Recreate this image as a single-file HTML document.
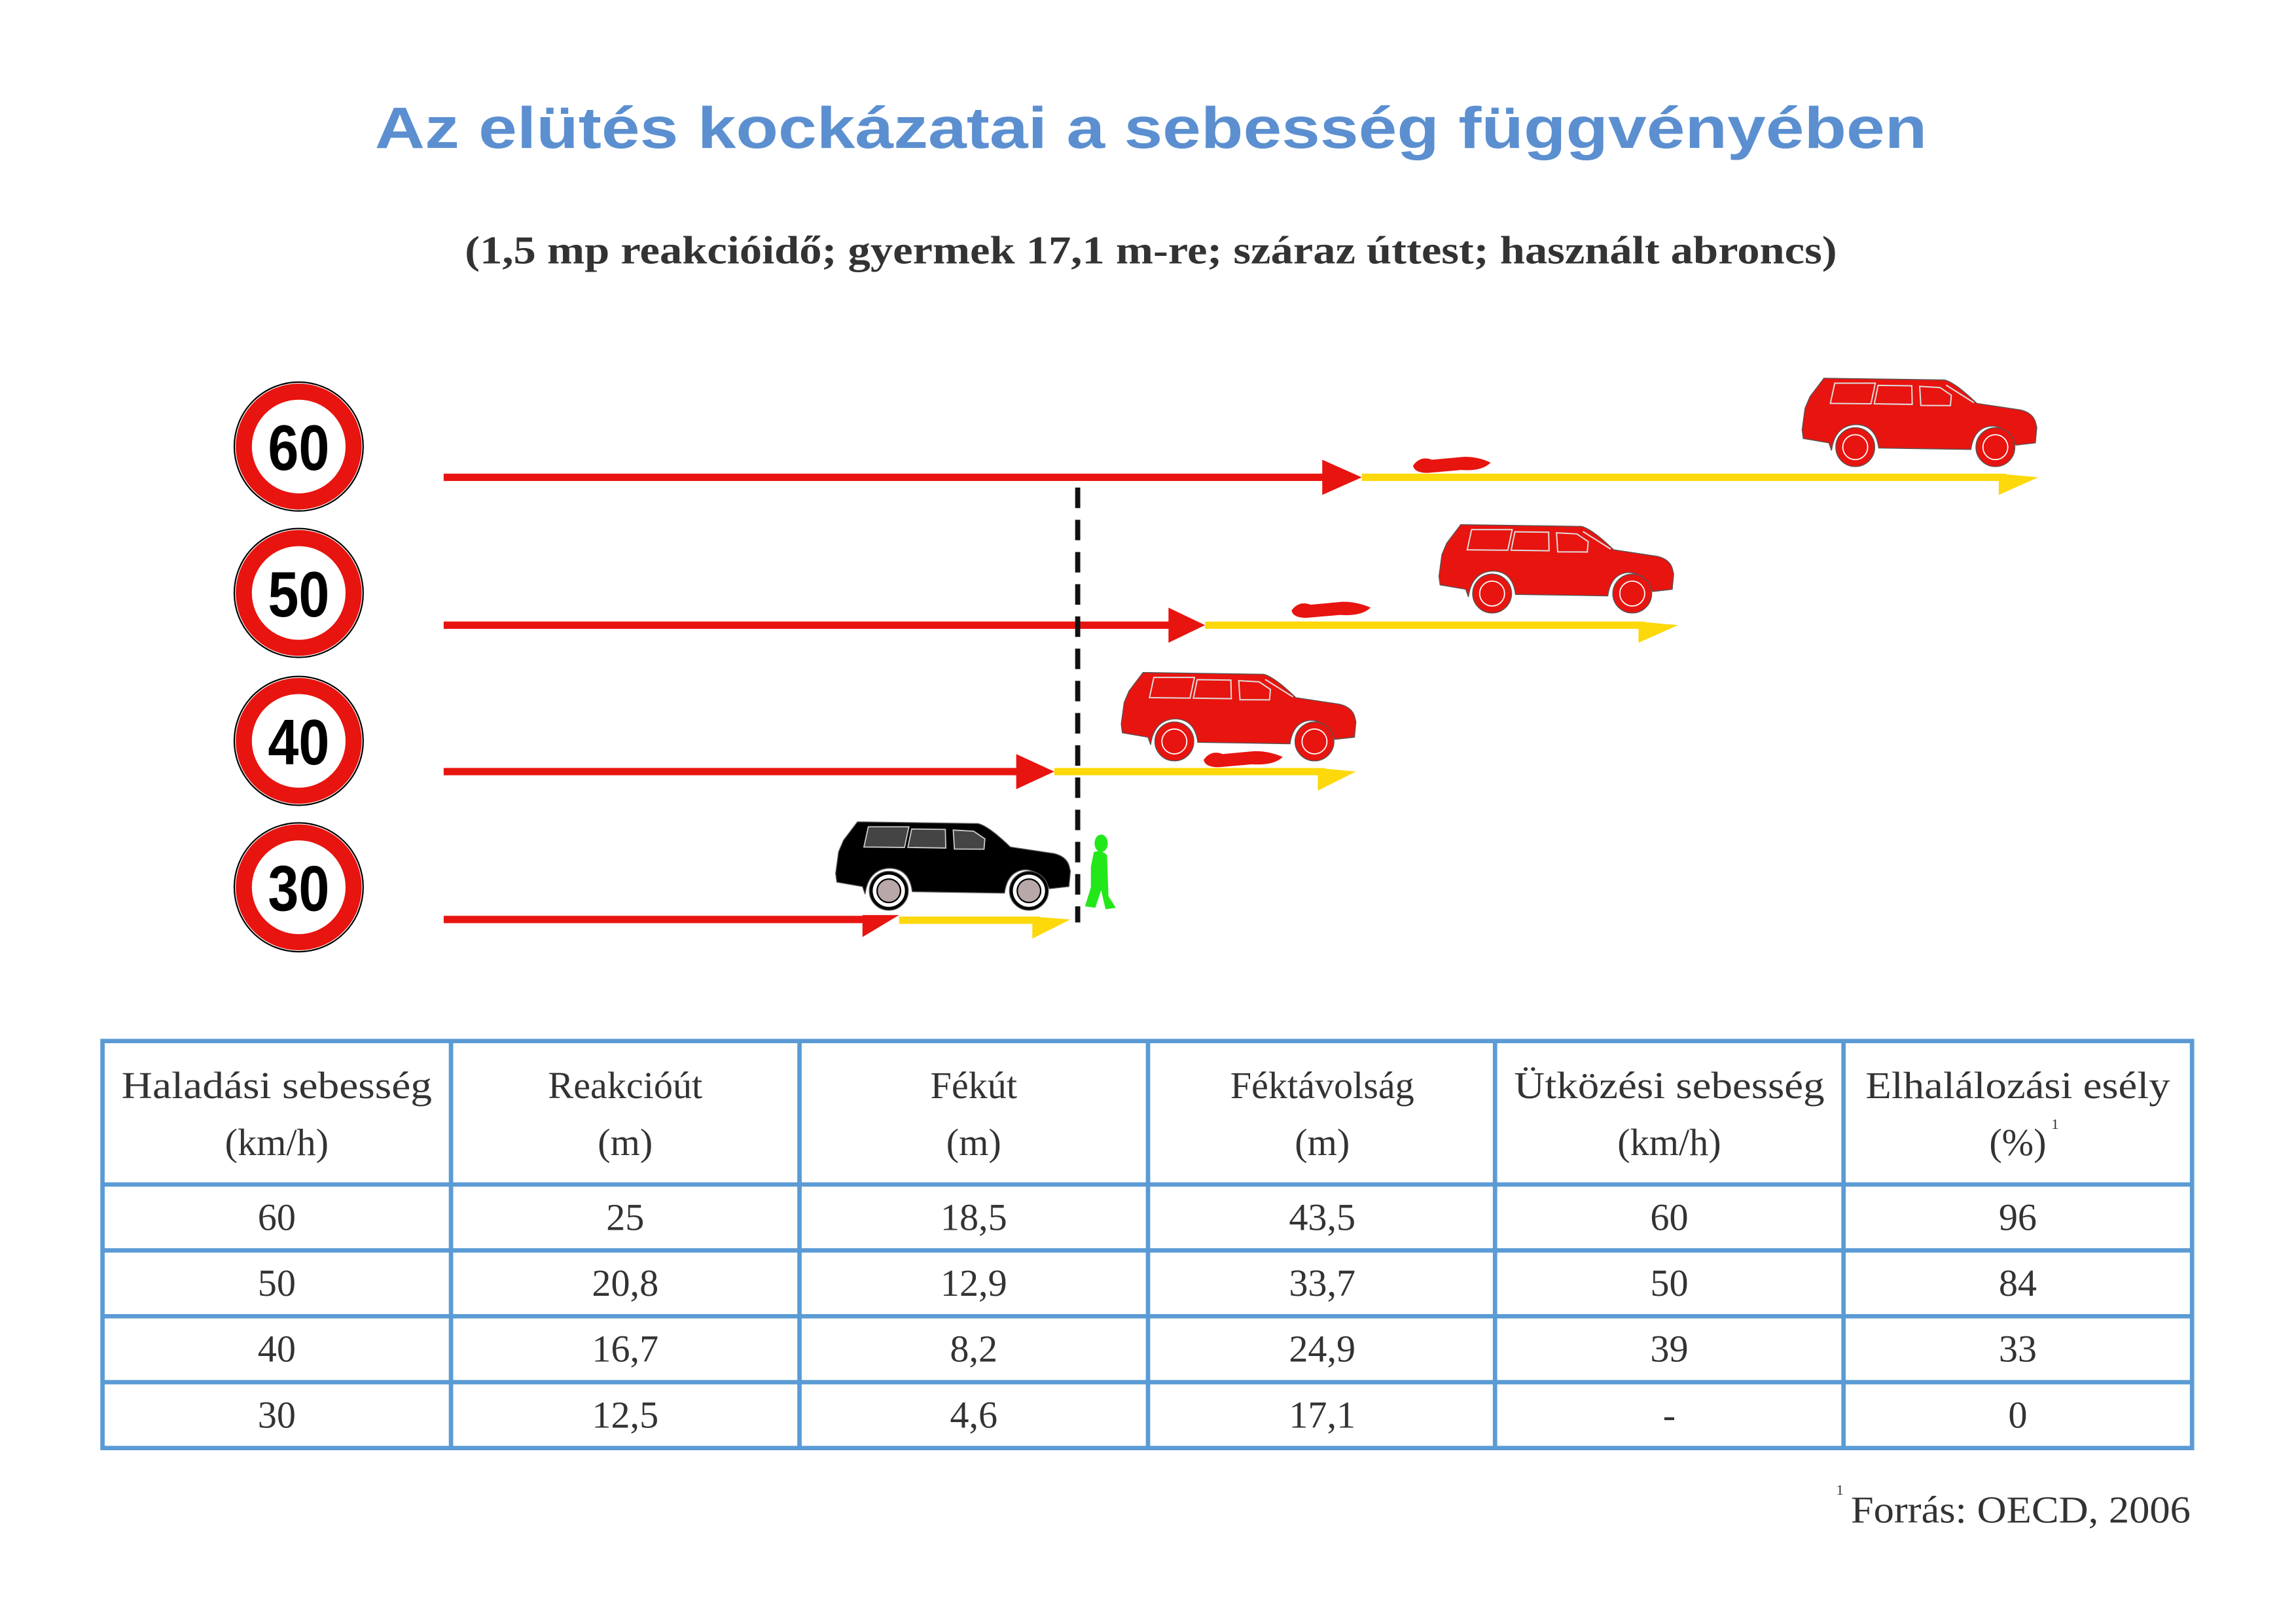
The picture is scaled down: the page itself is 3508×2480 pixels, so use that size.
<!DOCTYPE html>
<html><head><meta charset="utf-8"><style>html,body{margin:0;padding:0;background:#fff}svg{display:block}</style></head>
<body>
<svg xmlns="http://www.w3.org/2000/svg" width="3508" height="2480" viewBox="0 0 1568 1108.5" preserveAspectRatio="none">
<defs>
<g id="car">
<path d="M15.6,0.3 L97.8,1.5 Q105,3 120,17.5 L150,22 Q158,24 160,30 L161,34 L160,44.5 L146.7,46 Q140,33 130,33 Q118,34 116,49 L53,48 Q51,32 37,32 Q23,33 20.8,49.7 L19,44.5 L1.5,41.5 L0.7,35.6 L2.7,20.8 L6,13 Z" stroke="#555" stroke-width="0.6"/>
<circle cx="37" cy="47.4" r="13.3" stroke="#555" stroke-width="0.6"/>
<circle cx="132.7" cy="47.4" r="13.3" stroke="#555" stroke-width="0.6"/>
</g>
<g id="win" fill="none" stroke-width="0.9">
<path d="M23,3.7 L50.7,3.7 L47.7,17.8 L20,17.5 Z M52.6,5.2 L75.6,5.5 L75.9,18.2 L50,17.8 Z M81,5.9 L94.9,6.7 L102.6,11.9 L102,19 L81.8,18.9 Z M99,5 L118,17"/>
</g>
<g id="sign">
<circle r="44" fill="#fff" stroke="#000" stroke-width="1"/>
<circle r="37.5" fill="none" stroke="#e8140f" stroke-width="11"/>
</g>
</defs>

<text x="786" y="101" text-anchor="middle" font-family="Liberation Sans, sans-serif" font-weight="bold" font-size="40" fill="#5b8fd0" textLength="1060" lengthAdjust="spacingAndGlyphs">Az elütés kockázatai a sebesség függvényében</text>
<text x="786" y="180" text-anchor="middle" font-family="Liberation Serif, serif" font-weight="bold" font-size="27" fill="#333" textLength="937" lengthAdjust="spacingAndGlyphs">(1,5 mp reakcióidő; gyermek 17,1 m-re; száraz úttest; használt abroncs)</text>

<g font-family="Liberation Sans, sans-serif" font-weight="bold" font-size="44" text-anchor="middle" fill="#000">
<use href="#sign" x="204" y="305"/><text x="204" y="321" textLength="42" lengthAdjust="spacingAndGlyphs">60</text>
<use href="#sign" x="204" y="405"/><text x="204" y="421" textLength="42" lengthAdjust="spacingAndGlyphs">50</text>
<use href="#sign" x="204" y="506"/><text x="204" y="522" textLength="42" lengthAdjust="spacingAndGlyphs">40</text>
<use href="#sign" x="204" y="606"/><text x="204" y="622" textLength="42" lengthAdjust="spacingAndGlyphs">30</text>
</g>

<g fill="#e8140f">
<rect x="303" y="323.5" width="605" height="5"/><path d="M903,314 L930,326 L903,338 Z"/>
<rect x="303" y="424.5" width="500" height="5"/><path d="M798,415 L823,427 L798,439 Z"/>
<rect x="303" y="524.5" width="395" height="5"/><path d="M694,515 L720,527 L694,539 Z"/>
<rect x="303" y="625.5" width="290" height="5"/><path d="M589,625 L614,625 L589,640 Z"/>
</g>
<g fill="#fdd80a">
<rect x="930" y="323.5" width="440" height="5"/><path d="M1365,323.5 L1392,326 L1365,338 Z"/>
<rect x="823" y="424.5" width="300" height="5"/><path d="M1119,424.5 L1146,427 L1119,439 Z"/>
<rect x="720" y="524.5" width="185" height="5"/><path d="M900,524.5 L926,527 L900,540 Z"/>
<rect x="614" y="626" width="96" height="5"/><path d="M705,626 L731,628 L705,641 Z"/>
</g>
<line x1="736" y1="333" x2="736" y2="630" stroke="#111" stroke-width="3.5" stroke-dasharray="14,8"/>

<g transform="translate(1230,258)" fill="#e8140f"><use href="#car"/><g stroke="#ddd"><use href="#win"/></g><circle cx="37" cy="47.4" r="8.5" fill="none" stroke="#fff" stroke-width="0.8"/><circle cx="132.7" cy="47.4" r="8.5" fill="none" stroke="#fff" stroke-width="0.8"/></g>
<g transform="translate(982,358)" fill="#e8140f"><use href="#car"/><g stroke="#ddd"><use href="#win"/></g><circle cx="37" cy="47.4" r="8.5" fill="none" stroke="#fff" stroke-width="0.8"/><circle cx="132.7" cy="47.4" r="8.5" fill="none" stroke="#fff" stroke-width="0.8"/></g>
<g transform="translate(765,459)" fill="#e8140f"><use href="#car"/><g stroke="#ddd"><use href="#win"/></g><circle cx="37" cy="47.4" r="8.5" fill="none" stroke="#fff" stroke-width="0.8"/><circle cx="132.7" cy="47.4" r="8.5" fill="none" stroke="#fff" stroke-width="0.8"/></g>
<g transform="translate(570,561)" fill="#000"><use href="#car"/>
<path d="M23,3.7 L50.7,3.7 L47.7,17.8 L20,17.5 Z M52.6,5.2 L75.6,5.5 L75.9,18.2 L50,17.8 Z M81,5.9 L94.9,6.7 L102.6,11.9 L102,19 L81.8,18.9 Z" fill="#444" stroke="#ccc" stroke-width="0.8"/>
<circle cx="37" cy="47.4" r="11" fill="#fff"/><circle cx="132.7" cy="47.4" r="11" fill="#fff"/>
<circle cx="37" cy="47.4" r="8" fill="#b8a8a8" stroke="#000"/><circle cx="132.7" cy="47.4" r="8" fill="#b8a8a8" stroke="#000"/></g>

<g fill="#e8140f">
<path d="M965,318 Q970,311 978,314 L1000,312 Q1010,312 1018,316 Q1012,322 998,321 L975,323 Q966,323 965,318 Z"/>
<path d="M882,417 Q887,410 895,413 L917,411 Q927,411 936,415 Q930,421 915,420 L892,422 Q883,422 882,417 Z"/>
<path d="M822,519 Q827,512 835,515 L857,513 Q867,513 876,517 Q870,523 855,522 L832,524 Q823,524 822,519 Z"/>
</g>
<g fill="#22e81a">
<ellipse cx="752" cy="576" rx="4.5" ry="6"/>
<path d="M747,582 Q752,580 756,584 L757,612 L762,620 L755,621 L752,608 L748,620 L741,619 L745,606 L745,592 Z"/>
</g>

<g stroke="#5b9bd5" stroke-width="3" fill="none">
<rect x="70" y="711" width="1427" height="278"/>
<line x1="70" y1="809" x2="1497" y2="809"/><line x1="70" y1="854" x2="1497" y2="854"/><line x1="70" y1="899" x2="1497" y2="899"/><line x1="70" y1="944" x2="1497" y2="944"/>
<line x1="308" y1="711" x2="308" y2="989"/><line x1="546" y1="711" x2="546" y2="989"/><line x1="784" y1="711" x2="784" y2="989"/><line x1="1021" y1="711" x2="1021" y2="989"/><line x1="1259" y1="711" x2="1259" y2="989"/>
</g>
<g font-family="Liberation Serif, serif" font-size="26" fill="#333" text-anchor="middle">
<text x="189" y="750" textLength="212" lengthAdjust="spacingAndGlyphs">Haladási sebesség</text><text x="189" y="789">(km/h)</text>
<text x="427" y="750">Reakcióút</text><text x="427" y="789">(m)</text>
<text x="665" y="750">Fékút</text><text x="665" y="789">(m)</text>
<text x="903" y="750">Féktávolság</text><text x="903" y="789">(m)</text>
<text x="1140" y="750" textLength="212" lengthAdjust="spacingAndGlyphs">Ütközési sebesség</text><text x="1140" y="789">(km/h)</text>
<text x="1378" y="750" textLength="208" lengthAdjust="spacingAndGlyphs">Elhalálozási esély</text><text x="1378" y="789">(%)</text>
<text x="189" y="840">60</text><text x="427" y="840">25</text><text x="665" y="840">18,5</text><text x="903" y="840">43,5</text><text x="1140" y="840">60</text><text x="1378" y="840">96</text>
<text x="189" y="885">50</text><text x="427" y="885">20,8</text><text x="665" y="885">12,9</text><text x="903" y="885">33,7</text><text x="1140" y="885">50</text><text x="1378" y="885">84</text>
<text x="189" y="930">40</text><text x="427" y="930">16,7</text><text x="665" y="930">8,2</text><text x="903" y="930">24,9</text><text x="1140" y="930">39</text><text x="1378" y="930">33</text>
<text x="189" y="975">30</text><text x="427" y="975">12,5</text><text x="665" y="975">4,6</text><text x="903" y="975">17,1</text><text x="1140" y="975">-</text><text x="1378" y="975">0</text>
</g>
<text x="1401" y="771" font-family="Liberation Serif, serif" font-size="10" fill="#333">1</text>
<text x="1254" y="1021" font-family="Liberation Serif, serif" font-size="10" fill="#333">1</text>
<text x="1264" y="1040" font-family="Liberation Serif, serif" font-size="26" fill="#333" textLength="232" lengthAdjust="spacingAndGlyphs">Forrás: OECD, 2006</text>
</svg>
</body></html>
